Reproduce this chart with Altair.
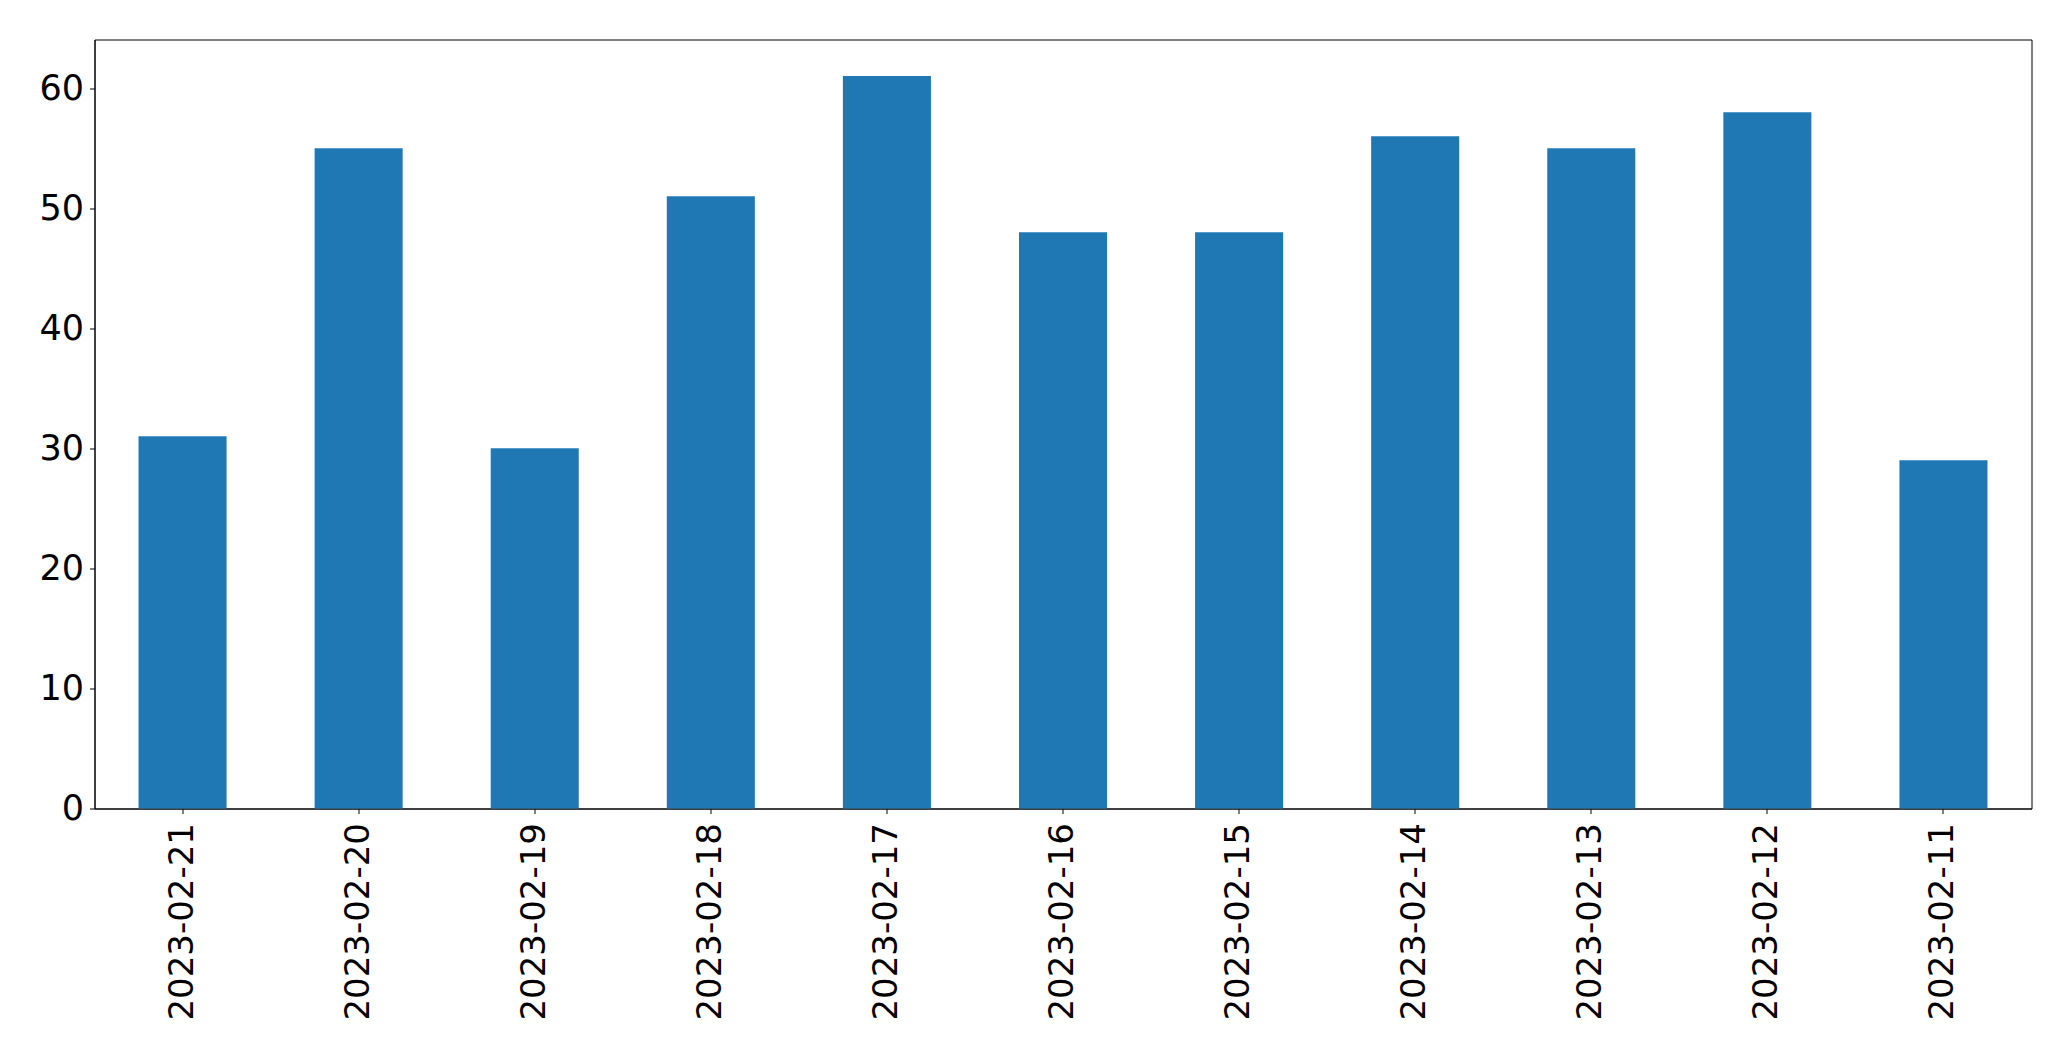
import altair as alt
import pandas as pd

dates = ["2023-02-21", "2023-02-20", "2023-02-19", "2023-02-18", "2023-02-17",
         "2023-02-16", "2023-02-15", "2023-02-14", "2023-02-13", "2023-02-12",
         "2023-02-11"]
counts = [31, 55, 30, 51, 61, 48, 48, 56, 55, 58, 29]
y_ticks = [0, 10, 20, 30, 40, 50, 60]

df = pd.DataFrame({"date": dates, "count": counts})

chart = alt.Chart(df).mark_bar(color="#1f77b4").encode(
    x=alt.X("date:N", sort=None, title=None,
            scale=alt.Scale(paddingInner=0.5, paddingOuter=0.25),
            axis=alt.Axis(labelAngle=270, labelAlign="right", labelBaseline="middle",
                          labelFontSize=34, labelFont="DejaVu Sans", labelColor="black",
                          labelLimit=400,
                          tickSize=5, tickColor="black", domainColor="black",
                          labelPadding=9, grid=False)),
    y=alt.Y("count:Q", title=None,
            scale=alt.Scale(domain=[0, 64.05], nice=False, zero=True),
            axis=alt.Axis(values=y_ticks, labelFontSize=35, labelFont="DejaVu Sans",
                          labelColor="black", tickSize=5, tickColor="black",
                          domainColor="black", labelPadding=6, grid=False)),
).properties(
    width=1937, height=769,
    autosize=alt.AutoSizeParams(type="none"),
    padding={"left": 86.5, "top": 31.5, "right": 30, "bottom": 230},
    background="white",
).configure_view(stroke="black", strokeWidth=1)

chart.save("out.html", embed_options={"renderer": "svg", "actions": False})
